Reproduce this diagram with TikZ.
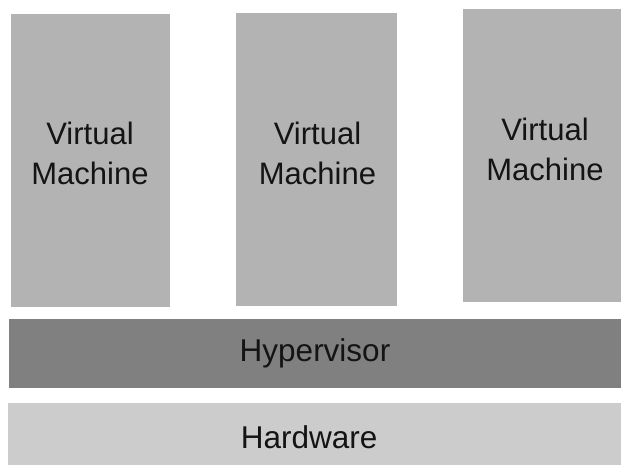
\documentclass[tikz,border=0pt]{standalone}
\usepackage{fontspec}
\setmainfont{Liberation Sans}
\begin{document}
\begin{tikzpicture}[x=1pt,y=-1pt,
  block/.style={rectangle,inner sep=0pt,outer sep=0pt,anchor=north west},
  vmbox/.style={block,fill=vmgray,minimum width=159pt,minimum height=293pt},
  vmtext/.style={inner sep=0pt,anchor=south,align=center,text=txt,
    font=\fontsize{31}{40}\selectfont},
  layertext/.style={inner sep=0pt,anchor=base,text=txt,
    font=\fontsize{31.5}{38}\selectfont}]
\definecolor{vmgray}{HTML}{B3B3B3}
\definecolor{hypgray}{HTML}{808080}
\definecolor{hwgray}{HTML}{CCCCCC}
\definecolor{txt}{HTML}{141414}
\useasboundingbox (0,0) rectangle (621,465);
\fill[white] (0,0) rectangle (621,465);

% virtual machines
\node[vmbox] (vm1) at (10.7,14.3) {};
\node[vmbox,minimum width=160.4pt] (vm2) at (236.4,12.7) {};
\node[vmbox,minimum width=158.4pt] (vm3) at (462.6,8.7) {};
\node[vmtext] (t1) at (90,185.5) {Virtual\\Machine};
\node[vmtext] (t2) at (317.5,185) {Virtual\\Machine};
\node[vmtext] (t3) at (545,180.7) {Virtual\\Machine};

% hypervisor and hardware layers
\node[block,fill=hypgray,minimum width=611.8pt,minimum height=69.2pt] (hyp) at (9.2,318.5) {};
\node[block,fill=hwgray,minimum width=613.2pt,minimum height=62pt] (hw) at (7.8,403) {};
\node[layertext] (thyp) at (315,361.7) {Hypervisor};
\node[layertext] (thw) at (309.2,448.3) {Hardware};
\end{tikzpicture}
\end{document}
